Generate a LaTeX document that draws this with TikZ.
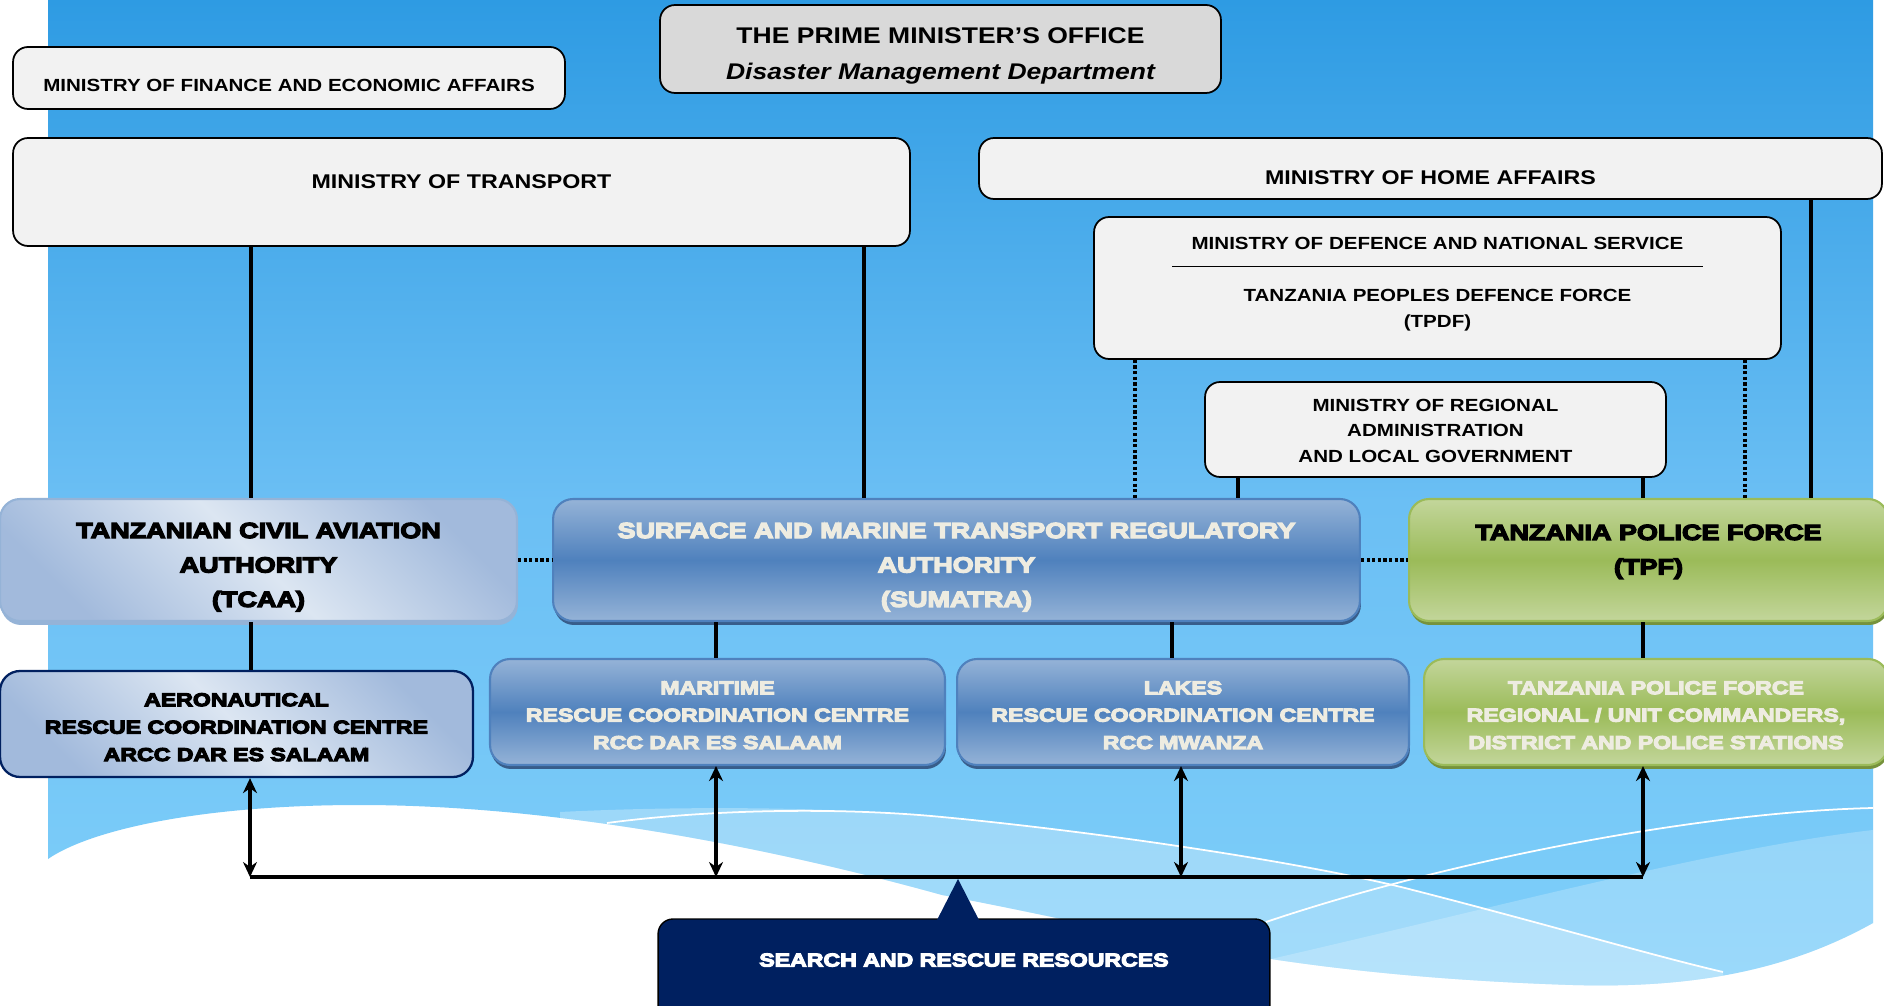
\documentclass[tikz,border=0pt]{standalone}
\usepackage{fontspec}
\setmainfont{Liberation Sans}[FakeStretch=1.17]
\newfontfamily\heavyfont{Liberation Sans}[FakeStretch=1.24,
  BoldFeatures={FakeBold=6}]
\usetikzlibrary{arrows.meta,shadows}

\definecolor{bgtop}{HTML}{2E9BE3}
\definecolor{bgmid}{HTML}{6BBFF4}
\definecolor{bgbot}{HTML}{80D0FA}
\definecolor{paper}{HTML}{F2F2F2}
\definecolor{pmgrey}{HTML}{D9D9D9}
\definecolor{paleblue}{HTML}{DCE6F2}
\definecolor{mistblue}{HTML}{A2BADC}
\definecolor{steel}{HTML}{95B3D7}
\definecolor{royal}{HTML}{4F81BD}
\definecolor{royaldark}{HTML}{385D8A}
\definecolor{lime}{HTML}{C3D69B}
\definecolor{olive}{HTML}{9BBB59}
\definecolor{olivedark}{HTML}{76923C}
\definecolor{navy}{HTML}{002060}
\definecolor{cream}{HTML}{EEECE1}

\begin{document}
\begin{tikzpicture}[x=0.02cm, y=-0.02cm,
  boxdim/.style 2 args={minimum width=#1, minimum height=#2},
  vspan/.style 2 args={text height=#1, text depth=#2, inner ysep=0pt},
  ministry/.style={draw=black, line width=1pt, fill=paper, rounded corners=0.3cm,
    align=center, font=\fontsize{10}{14.7}\selectfont\bfseries},
  agency/.style={rounded corners=0.4cm, align=center, line width=1.2pt,
    font=\heavyfont\bfseries\fontsize{12.4}{19.6}\selectfont},
  centre/.style={agency, font=\heavyfont\bfseries\fontsize{10.6}{15.6}\selectfont},
  palefill/.style={top color=mistblue, bottom color=mistblue, middle color=paleblue,
    shading angle=-45},
  bluefill/.style={top color=steel, bottom color=steel, middle color=royal, draw=royal,
    text=cream, drop shadow={shadow xshift=0.02cm, shadow yshift=-0.08cm,
    fill=royaldark, opacity=1}},
  greenfill/.style={top color=lime, bottom color=lime, middle color=olive, draw=olive,
    drop shadow={shadow xshift=0.02cm, shadow yshift=-0.08cm, fill=olivedark, opacity=1}},
  link/.style={line width=2pt},
  dots/.style={line width=2pt, dash pattern=on 1.8pt off 1.4pt},
  twoway/.style={line width=1.8pt, <->, >={Stealth[length=0.3cm, width=0.28cm]}},
  bus/.style={line width=2.4pt}]

  \useasboundingbox (0,0) rectangle (1884,1006);
  \clip (0,0) rectangle (1884,1006);
  \fill[white] (0,0) rectangle (1884,1006);

  % background with the wave at the bottom
  \begin{scope}
    \clip (48,0) -- (1873,0) -- (1873,923)
      .. controls (1780,975) and (1680,988) .. (1573,985)
      .. controls (1480,982) and (1380,975) .. (1278,960)
      .. controls (1150,940) and (1050,915) .. (942,895)
      .. controls (780,850) and (560,805) .. (360,805)
      .. controls (200,805) and (90,830) .. (48,859) -- cycle;
    \shade[top color=bgtop, bottom color=bgbot, middle color=bgmid] (48,0) rectangle (1873,1006);
    \fill[white, opacity=0.28] (560,812) .. controls (700,805) and (850,808) .. (942,817)
      .. controls (1100,832) and (1300,862) .. (1405,888)
      .. controls (1550,925) and (1650,955) .. (1723,972) -- (1723,1006) -- (560,1006) -- cycle;
    \fill[white, opacity=0.22] (1200,975) .. controls (1450,920) and (1700,850) .. (1873,830)
      -- (1873,1006) -- (1200,1006) -- cycle;
    \draw[white, line width=1pt] (607,823) .. controls (720,808) and (850,808) .. (942,817)
      .. controls (1100,832) and (1300,862) .. (1405,888)
      .. controls (1550,925) and (1650,955) .. (1723,972);
    \draw[white, line width=1pt] (1266,922) .. controls (1450,860) and (1700,812) .. (1873,808);
  \end{scope}

  % ministries
  \node[ministry, fill=pmgrey, boxdim={11.22cm}{1.76cm},
    font=\fontsize{12.9}{20.4}\selectfont\bfseries] (pm) at (940.5,49)
    {\mbox{}\\[-0.11cm]THE PRIME MINISTER’S OFFICE\\\itshape Disaster Management Department};
  \node[ministry, minimum width=11.04cm, vspan={0.89cm}{0.35cm}] (fin) at (289,78)
    {MINISTRY OF FINANCE AND ECONOMIC AFFAIRS};
  \node[ministry, minimum width=17.94cm, vspan={1.02cm}{1.14cm},
    font=\fontsize{11.3}{14}\selectfont\bfseries] (tra) at (461.5,192) {MINISTRY OF TRANSPORT};
  \node[ministry, minimum width=18.06cm, vspan={0.93cm}{0.29cm},
    font=\fontsize{11.3}{14}\selectfont\bfseries] (home) at (1430.5,168.5) {MINISTRY OF HOME AFFAIRS};
  \node[ministry, boxdim={13.74cm}{2.84cm}] (def) at (1437.5,288)
    {MINISTRY OF DEFENCE AND NATIONAL SERVICE\\[-4.8pt]\rule{10.62cm}{0.8pt}\\[4.8pt]
     TANZANIA PEOPLES DEFENCE FORCE\\(TPDF)\\[-0.3cm]\mbox{}};
  \node[ministry, boxdim={9.22cm}{1.9cm}] (reg) at (1435.5,429.5)
    {\mbox{}\\[-0.22cm]MINISTRY OF REGIONAL\\ADMINISTRATION\\AND LOCAL GOVERNMENT};

  % authorities
  \node[agency, palefill, draw=steel, boxdim={10.34cm}{2.44cm},
    drop shadow={shadow xshift=0.02cm, shadow yshift=-0.08cm, fill=steel, opacity=1}]
    (tcaa) at (258.5,560) {\mbox{}\\[-0.1cm]TANZANIAN CIVIL AVIATION\\AUTHORITY\\(TCAA)};
  \node[agency, bluefill, boxdim={16.14cm}{2.44cm}] (sum) at (956.5,560)
    {\mbox{}\\[-0.1cm]SURFACE AND MARINE TRANSPORT REGULATORY\\AUTHORITY\\(SUMATRA)};
  \node[agency, greenfill, boxdim={9.58cm}{2.44cm}] (tpf) at (1648.5,560)
    {TANZANIA POLICE FORCE\\(TPF)\\[-0.27cm]\mbox{}};

  % rescue centres
  \node[centre, palefill, draw=navy, line width=1.3pt, boxdim={9.46cm}{2.12cm}] (arcc) at (236.5,724)
    {\mbox{}\\[-0.16cm]AERONAUTICAL\\RESCUE COORDINATION CENTRE\\ARCC DAR ES SALAAM};
  \node[centre, bluefill, boxdim={9.1cm}{2.12cm}] (mar) at (717.5,712)
    {\mbox{}\\[-0.16cm]MARITIME\\RESCUE COORDINATION CENTRE\\RCC DAR ES SALAAM};
  \node[centre, bluefill, boxdim={9.04cm}{2.12cm}] (lak) at (1183,712)
    {\mbox{}\\[-0.16cm]LAKES\\RESCUE COORDINATION CENTRE\\RCC MWANZA};
  \node[centre, greenfill, text=cream, boxdim={9.28cm}{2.12cm}] (tpr) at (1656,712)
    {\mbox{}\\[-0.16cm]TANZANIA POLICE FORCE\\REGIONAL / UNIT COMMANDERS,\\DISTRICT AND POLICE STATIONS};

  \node[centre, fill=navy, draw=black, line width=0.8pt, text=white, rounded corners=0.3cm,
    minimum width=12.24cm, vspan={0.95cm}{1.07cm}] (sar) at (964,969.5)
    {SEARCH AND RESCUE RESOURCES};

  \coordinate (b1) at (250,877);
  \coordinate (b2) at (716,877);
  \coordinate (b3) at (1181,877);
  \coordinate (b4) at (1643,877);
  \coordinate (tip) at (958,879);

  % connectors
  \draw[link] (tra.south -| 251,0) -- (tcaa.north -| 251,0);
  \draw[link] (tra.south -| 864,0) -- (sum.north -| 864,0);
  \draw[link] (home.south -| 1811,0) -- (tpf.north -| 1811,0);
  \draw[dots] (def.south -| 1135,0) -- (sum.north -| 1135,0);
  \draw[dots] (def.south -| 1745,0) -- (tpf.north -| 1745,0);
  \draw[link] (reg.south -| 1238,0) -- (sum.north -| 1238,0);
  \draw[link] (reg.south -| b4) -- (tpf.north -| b4);
  \draw[dots] (tcaa.east) -- (sum.west);
  \draw[dots] (sum.east) -- (tpf.west);
  \draw[link] (tcaa.south -| 251,0) -- (arcc.north -| 251,0);
  \draw[link] (sum.south -| b2) -- (mar.north -| b2);
  \draw[link] (sum.south -| 1172,0) -- (lak.north -| 1172,0);
  \draw[link] (tpf.south -| b4) -- (tpr.north -| b4);

  \fill[navy] ([xshift=-0.54cm, yshift=-1pt]sar.north) -- (tip)
    -- ([xshift=0.3cm, yshift=-1pt]sar.north) -- cycle;
  \draw[twoway] (arcc.south -| b1) -- (b1);
  \draw[twoway] (mar.south -| b2) -- (b2);
  \draw[twoway] (lak.south -| b3) -- (b3);
  \draw[twoway] (tpr.south -| b4) -- (b4);
  \draw[bus] (b1) -- (b4);
\end{tikzpicture}
\end{document}
